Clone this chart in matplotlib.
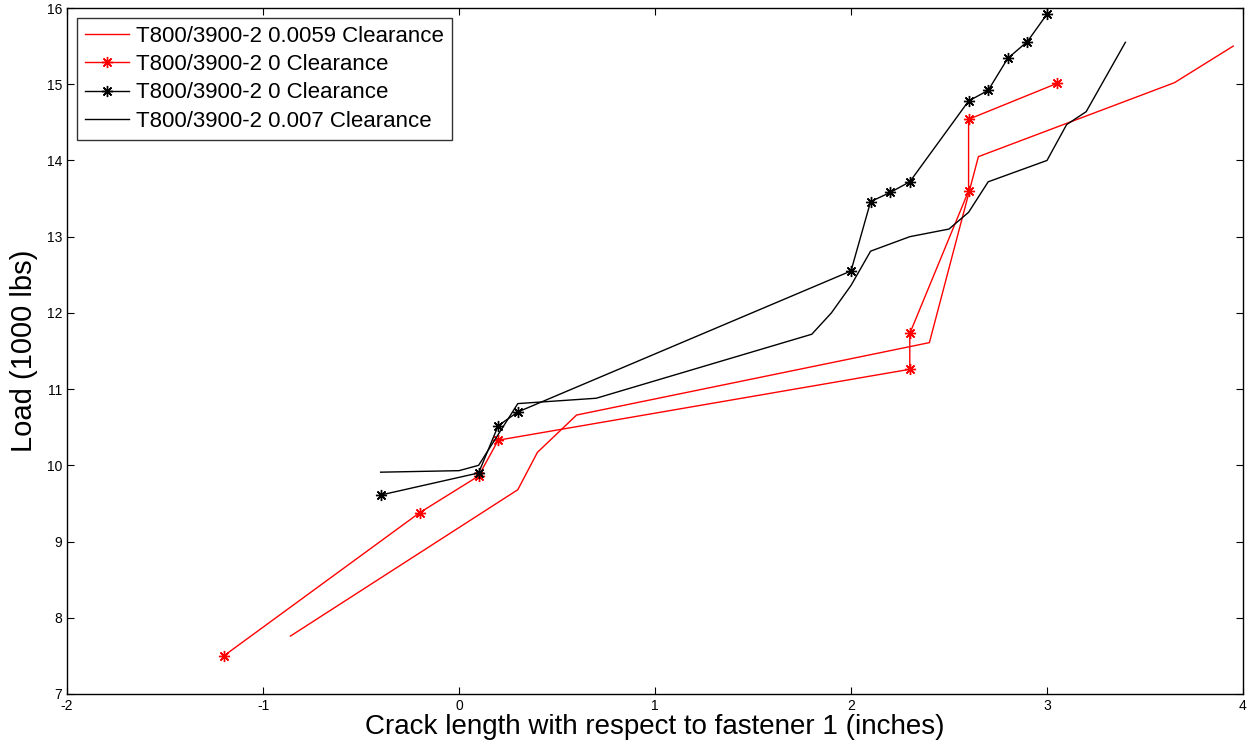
import matplotlib
matplotlib.use("Agg")
import matplotlib.pyplot as plt

plt.rcParams['font.family'] = ['Liberation Sans', 'DejaVu Sans']
plt.rcParams['axes.unicode_minus'] = False

# T800/3900-2 0.0059 Clearance (red, no markers)
x_red = [-0.86, 0.30, 0.40, 0.60, 2.40, 2.65, 3.65, 3.95]
y_red = [7.76, 9.68, 10.17, 10.66, 11.61, 14.05, 15.02, 15.50]

# T800/3900-2 0 Clearance (red, markers)
x_red_star = [-1.20, -0.20, 0.10, 0.20, 2.30, 2.30, 2.60, 2.60, 3.05]
y_red_star = [7.50, 9.38, 9.86, 10.33, 11.26, 11.73, 13.60, 14.54, 15.01]

# T800/3900-2 0 Clearance (black, markers)
x_blk_star = [-0.40, 0.10, 0.20, 0.30, 2.00, 2.10, 2.20, 2.30, 2.60, 2.70, 2.80, 2.90, 3.00]
y_blk_star = [9.61, 9.90, 10.52, 10.70, 12.55, 13.46, 13.58, 13.72, 14.78, 14.92, 15.34, 15.56, 15.92]

# T800/3900-2 0.007 Clearance (black, no markers)
x_blk = [-0.40, 0.00, 0.10, 0.30, 0.70, 1.80, 1.90, 2.00, 2.10, 2.30, 2.50, 2.60, 2.70, 3.00, 3.10, 3.20, 3.40]
y_blk = [9.91, 9.93, 10.00, 10.81, 10.88, 11.72, 12.00, 12.36, 12.81, 13.00, 13.10, 13.32, 13.72, 14.00, 14.47, 14.64, 15.55]

labels = ["T800/3900-2 0.0059 Clearance", "T800/3900-2 0 Clearance",
          "T800/3900-2 0 Clearance", "T800/3900-2 0.007 Clearance"]

xticks = [-2, -1, 0, 1, 2, 3, 4]
yticks = [7, 8, 9, 10, 11, 12, 13, 14, 15, 16]

fig = plt.figure(figsize=(12.53, 7.5), dpi=100)
ax = fig.add_axes([0.0535, 0.0747, 0.9385, 0.9146])

star = (8, 2, 0)
ax.plot(x_red, y_red, color="red", lw=1.0, label=labels[0])
ax.plot(x_red_star, y_red_star, color="red", lw=1.0, marker=star, ms=8, mew=1.0, label=labels[1])
ax.plot(x_blk_star, y_blk_star, color="black", lw=1.0, marker=star, ms=8, mew=1.0, label=labels[2])
ax.plot(x_blk, y_blk, color="black", lw=1.0, label=labels[3])

ax.set_xlim(-2, 4)
ax.set_ylim(7, 16)
ax.set_xticks(xticks)
ax.set_yticks(yticks)
ax.tick_params(direction="in", length=5, width=0.8, top=True, right=True, labelsize=10)
for s in ax.spines.values():
    s.set_linewidth(1.0)

ax.set_xlabel("Crack length with respect to fastener 1 (inches)", fontsize=20, labelpad=1)
ax.set_ylabel("Load (1000 lbs)", fontsize=21, labelpad=6)

leg = ax.legend(loc="upper left", fontsize=16, frameon=True, fancybox=False,
                edgecolor="black", borderaxespad=0.45, handlelength=2.0,
                handletextpad=0.3, labelspacing=0.33, borderpad=0.35)
leg.get_frame().set_linewidth(1.0)

fig.savefig("out.png", dpi=100)
